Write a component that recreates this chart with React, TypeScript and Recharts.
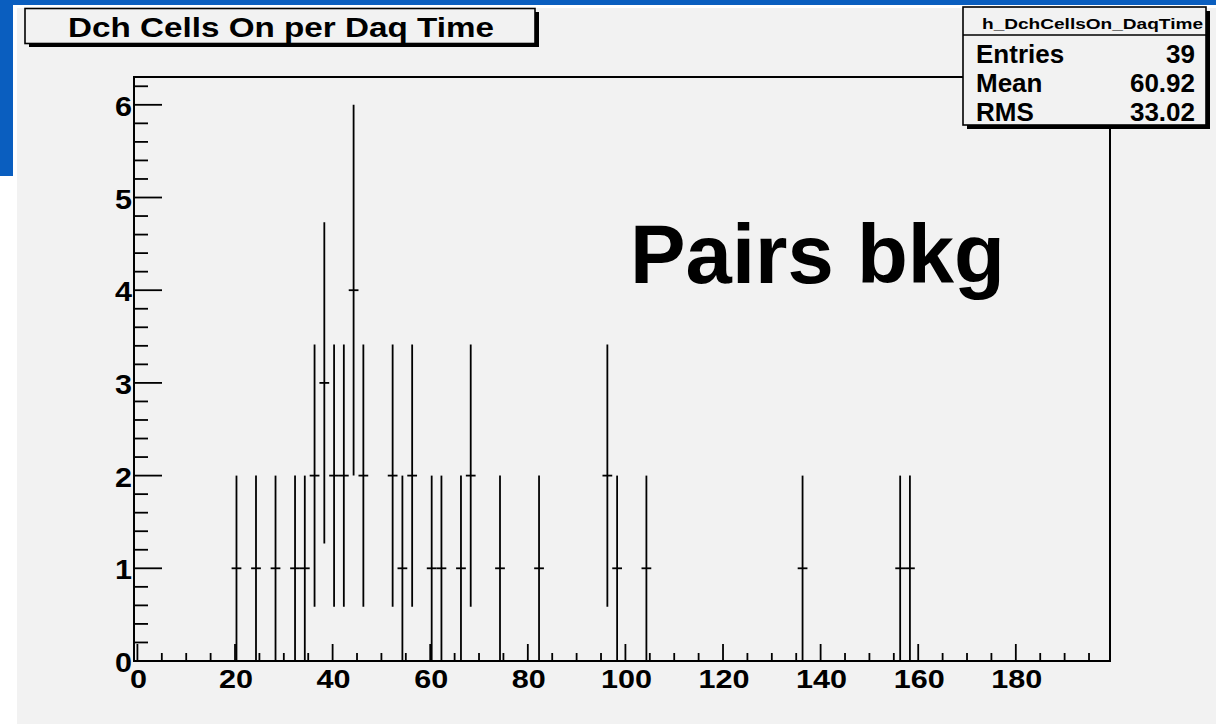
import { ScatterChart, Scatter, ErrorBar, XAxis, YAxis, ReferenceArea } from "recharts";

// bin centres (bin width 2) and entries per bin
const binCenters = [
  20.3, 24.3, 28.3, 32.3, 34.3, 36.3, 38.3, 40.3, 42.3, 44.3, 46.3, 52.3, 54.3,
  56.3, 60.3, 62.3, 66.3, 68.3, 74.3, 82.3, 96.3, 98.3, 104.3, 136.3, 156.3, 158.3,
];
const binCounts = [1, 1, 1, 1, 1, 2, 3, 2, 2, 4, 2, 2, 1, 2, 1, 1, 1, 2, 1, 1, 2, 1, 1, 1, 1, 1];
const binHalfWidth = 1;

const xDomain = [-0.7, 199.3];
const yDomain = [0, 6.3];
const xLabels = [0, 20, 40, 60, 80, 100, 120, 140, 160, 180];
const xTicks = [
  0, 5, 10, 15, 20, 25, 30, 35, 40, 45, 50, 55, 60, 65, 70, 75, 80, 85, 90, 95,
  100, 105, 110, 115, 120, 125, 130, 135, 140, 145, 150, 155, 160, 165, 170, 175, 180, 185, 190, 195,
];
const yLabels = [0, 1, 2, 3, 4, 5, 6];
const yTicks = [
  0, 0.2, 0.4, 0.6, 0.8, 1, 1.2, 1.4, 1.6, 1.8, 2, 2.2, 2.4, 2.6, 2.8, 3, 3.2, 3.4, 3.6, 3.8,
  4, 4.2, 4.4, 4.6, 4.8, 5, 5.2, 5.4, 5.6, 5.8, 6, 6.2,
];

const title = "Dch Cells On per Daq Time";
const statName = "h_DchCellsOn_DaqTime";
const statLabels = ["Entries", "Mean", "RMS"];
const statValues = ["39", "60.92", "33.02"];
const note = "Pairs bkg";

const data = binCenters.map((x, i) => ({
  x,
  y: binCounts[i],
  ey: Math.sqrt(binCounts[i]),
  ex: binHalfWidth,
}));

const FONT = "'Liberation Sans', Arial, Helvetica, sans-serif";
const BG = "#f2f2f2";
const BLUE = "#0a5ebf";

function XTick(props: any) {
  const { x, y, payload } = props;
  const major = xLabels.includes(payload.value);
  const s = String(payload.value);
  return (
    <g>
      <line x1={x} y1={y} x2={x} y2={y - (major ? 17 : 8)} stroke="#000" strokeWidth={1.8} />
      {major && (
        <text
          x={x + 1}
          y={y + 27}
          textAnchor="middle"
          fontFamily={FONT}
          fontWeight="bold"
          fontSize={26}
          fill="#000"
          textLength={s.length * 17}
          lengthAdjust="spacingAndGlyphs"
        >
          {s}
        </text>
      )}
    </g>
  );
}

function YTick(props: any) {
  const { x, y, payload } = props;
  const major = yLabels.includes(payload.value);
  return (
    <g>
      <line x1={x} y1={y} x2={x + (major ? 28 : 14)} y2={y} stroke="#000" strokeWidth={1.8} />
      {major && (
        <text
          x={x - 2}
          y={y + 11}
          textAnchor="end"
          fontFamily={FONT}
          fontWeight="bold"
          fontSize={27}
          fill="#000"
          textLength={17}
          lengthAdjust="spacingAndGlyphs"
        >
          {payload.value}
        </text>
      )}
    </g>
  );
}

export default function App() {
  return (
    <div style={{ position: "absolute", left: 0, top: 0, width: 1216, height: 724, background: "#fff", overflow: "hidden" }}>
      <div style={{ position: "absolute", left: 0, top: 0, width: 1216, height: 5, background: BLUE }} />
      <div style={{ position: "absolute", left: 0, top: 0, width: 13, height: 176, background: BLUE }} />
      <div style={{ position: "absolute", left: 17, top: 8, width: 1199, height: 716, background: BG }} />

      <div style={{ position: "absolute", left: 0, top: 0 }}>
        <ScatterChart width={1216} height={724} margin={{ top: 77, right: 106, bottom: 62, left: 133 }}>
          <XAxis
            type="number"
            dataKey="x"
            domain={xDomain}
            allowDataOverflow
            ticks={xTicks}
            interval={0}
            tickSize={0}
            tickMargin={0}
            tickLine={false}
            height={1}
            axisLine={{ stroke: "#000", strokeWidth: 2 }}
            tick={(p: any) => <XTick {...p} />}
          />
          <YAxis
            type="number"
            dataKey="y"
            domain={yDomain}
            allowDataOverflow
            ticks={yTicks}
            interval={0}
            tickSize={0}
            tickMargin={0}
            tickLine={false}
            width={1}
            axisLine={{ stroke: "#000", strokeWidth: 2 }}
            tick={(p: any) => <YTick {...p} />}
          />
          <ReferenceArea
            x1={xDomain[0]}
            x2={xDomain[1]}
            y1={yDomain[0]}
            y2={yDomain[1]}
            fill="none"
            stroke="#000"
            strokeWidth={2}
            ifOverflow="visible"
          />
          <Scatter data={data} isAnimationActive={false} shape={() => <g />}>
            <ErrorBar dataKey="ey" direction="y" width={0} stroke="#000" strokeWidth={1.8} isAnimationActive={false} />
            <ErrorBar dataKey="ex" direction="x" width={0} stroke="#000" strokeWidth={1.8} isAnimationActive={false} />
          </Scatter>
        </ScatterChart>
      </div>

      <svg width={1216} height={724} style={{ position: "absolute", left: 0, top: 0, pointerEvents: "none" }}>
        {/* title box */}
        <rect x={29} y={12} width={510} height={35} fill="#000" />
        <rect x={25} y={8.5} width={510} height={35} fill={BG} stroke="#000" strokeWidth={1.6} />
        <text x={68} y={37} fontFamily={FONT} fontWeight="bold" fontSize={27} textLength={426} lengthAdjust="spacingAndGlyphs">
          {title}
        </text>

        {/* stats box */}
        <rect x={967} y={11} width={243} height={118} fill="#000" />
        <rect x={963} y={7} width={243} height={118} fill={BG} stroke="#000" strokeWidth={1.6} />
        <line x1={963} y1={35} x2={1206} y2={35} stroke="#000" strokeWidth={1.4} />
        <text x={982} y={29} fontFamily={FONT} fontWeight="bold" fontSize={15} textLength={221} lengthAdjust="spacingAndGlyphs">
          {statName}
        </text>
        {statLabels.map((l, i) => (
          <g key={l}>
            <text x={976} y={63 + i * 29} fontFamily={FONT} fontWeight="bold" fontSize={26}>
              {l}
            </text>
            <text x={1195} y={63 + i * 29} textAnchor="end" fontFamily={FONT} fontWeight="bold" fontSize={26}>
              {statValues[i]}
            </text>
          </g>
        ))}

        <text x={630} y={283} fontFamily={FONT} fontWeight="bold" fontSize={84} textLength={375} lengthAdjust="spacingAndGlyphs">
          {note}
        </text>
      </svg>
    </div>
  );
}
